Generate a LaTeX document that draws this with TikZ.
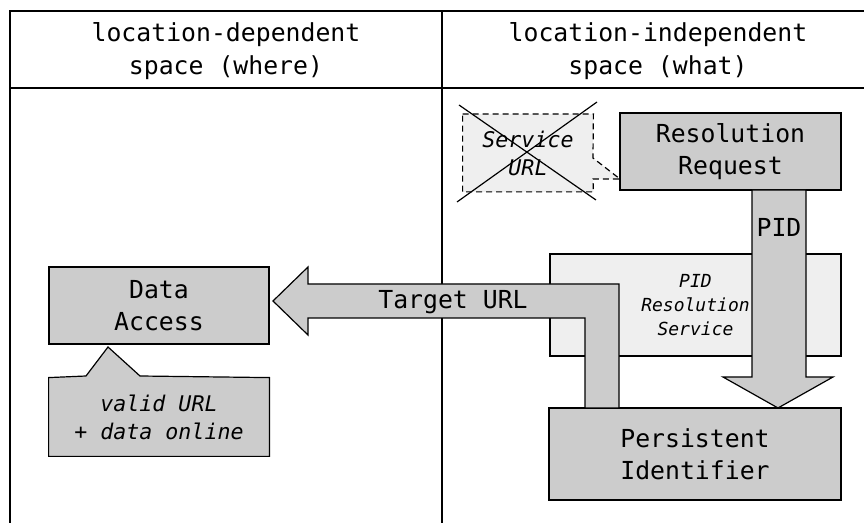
\documentclass[tikz,border=0pt]{standalone}
\usepackage{fontspec}
\setmonofont{DejaVu Sans Mono}
\usetikzlibrary{backgrounds}
\definecolor{boxgray}{HTML}{CCCCCC}
\definecolor{palegray}{HTML}{EFEFEF}

\begin{document}
\begin{tikzpicture}[x=0.5pt, y=-0.5pt,
        box/.style={draw, line width=0.6pt, fill=boxgray, align=center, inner sep=0pt,
            font=\ttfamily\fontsize{12.4}{16}\selectfont},
        palebox/.style={box, fill=palegray},
        note/.style={align=center, inner sep=0pt,
            font=\ttfamily\itshape\fontsize{10.8}{14}\selectfont},
        label/.style={align=center, inner sep=0pt,
            font=\ttfamily\fontsize{12.4}{16.5}\selectfont}]
        \useasboundingbox (0,0) rectangle (864,523);

        % table frame
        \draw[line width=0.9pt] (10,523) -- (10,11) -- (864,11);
        \draw[line width=0.9pt] (10,88) -- (864,88);
        \draw[line width=0.7pt] (442,11) -- (442,523);

        \node[label] (where) at (226,51.5) {location-dependent\\space (where)};
        \node[label] (what) at (658,51.5) {location-independent\\space (what)};

        % left side
        \node[box, minimum width=110pt, minimum height=38.5pt] (access) at (159,305.5) {Data\\Access};
        \node[note, minimum width=110pt, minimum height=39pt] (valid) at (159,417) {valid URL\\+ data online};
        \begin{scope}[on background layer]
            \draw[line width=0.6pt, fill=boxgray] (valid.north west) -- (86,376) -- (108,347) -- (140,376)
                -- (valid.north east) -- (valid.south east) -- (valid.south west) -- cycle;
        \end{scope}

        % right side
        \node[box, minimum width=110.5pt, minimum height=38.5pt] (request) at (730.5,151.5) {Resolution\\Request};
        \node[note, minimum width=65pt, minimum height=38.5pt] (service) at (528,153) {Service\\URL};
        \begin{scope}[on background layer]
            \draw[line width=0.6pt, dash pattern=on 3pt off 2pt, fill=palegray] (service.north west) -- (service.north east)
                -- (593,158) -- (620,179) -- (593,179) -- (service.south east) -- (service.south west) -- cycle;
        \end{scope}
        \draw[line width=0.6pt] (459,105) -- (596,200);
        \draw[line width=0.6pt] (597,102) -- (457,202);

        \node[palebox, minimum width=145.5pt, minimum height=51pt,
            font=\ttfamily\itshape\fontsize{9}{12}\selectfont] (resolver) at (695.5,305) {PID\\Resolution\\Service};
        \node[box, minimum width=146pt, minimum height=46pt] (pid) at (695,454) {Persistent\\Identifier};

        % big arrows
        \draw[line width=0.6pt, fill=boxgray] (752,190) -- (752,377) -- (723,377) -- (778,408)
            -- (833,377) -- (806,377) -- (806,190) -- cycle;
        \node[label] (pidlabel) at (779,227) {PID};

        \draw[line width=0.6pt, fill=boxgray] (619,408) -- (619,284) -- (308,284) -- (308,267) -- (273,301)
            -- (308,335) -- (308,318) -- (585,318) -- (585,408) -- cycle;
        \node[label] (target) at (453,302) {Target URL};
    \end{tikzpicture}
\end{document}
